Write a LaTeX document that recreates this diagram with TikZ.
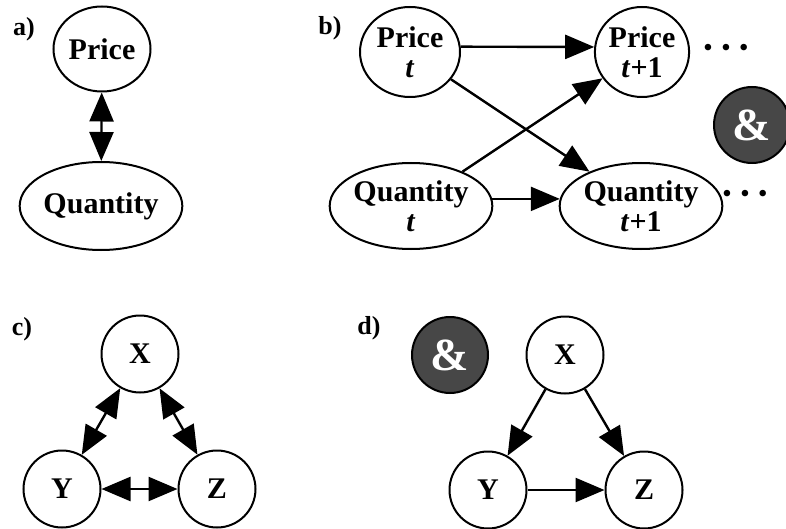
\documentclass[tikz,border=0pt]{standalone}
\usepackage{fontspec}
\setmainfont{Liberation Serif}
\usetikzlibrary{shapes.geometric,arrows.meta}
\tikzset{
  lbl/.style={font=\fontsize{30}{33}\selectfont\bfseries, text=black},
  ell/.style={ellipse, draw, line width=2pt, inner sep=0pt, lbl},
  circ/.style={circle, draw, line width=2pt, inner sep=0pt, minimum size=77pt, lbl},
  amp/.style={circle, draw, line width=2pt, fill=black!72, inner sep=0pt, minimum size=76pt,
     font=\fontsize{46}{46}\selectfont\bfseries, text=white},
  panel/.style={font=\fontsize{26}{26}\selectfont\bfseries},
  tip/.style={Triangle[length=29pt,width=24pt]},
  edge/.style={line width=2.4pt, -{Triangle[length=29pt,width=24pt]}},
  dbl/.style={line width=2.4pt, {Triangle[length=29pt,width=24pt]}-{Triangle[length=29pt,width=24pt]}},
  dots/.style={font=\fontsize{24}{24}\selectfont\bfseries, inner sep=0pt}
}
\begin{document}
\begin{tikzpicture}[x=1pt,y=-1pt]
\useasboundingbox (0,0) rectangle (786,529);
% panel a
\node[panel] (la) at (24,29) {a)};
\node[ell, minimum width=97pt, minimum height=85pt] (pa) at (102,49) {Price};
\node[ell, minimum width=135pt, minimum height=88pt] (qa) at (101,206) {Quantity};
\draw[dbl] (pa) -- (qa);
% panel b
\node[panel] (lb) at (330,28) {b)};
\node[ell, minimum width=100pt, minimum height=90pt, align=center] (pb) at (410,52) {Price\\[-3pt]\textit{t}};
\node[ell, minimum width=92pt, minimum height=90pt, align=center] (pb1) at (642,52) {Price\\[-3pt]\textit{t}+1};
\node[ell, minimum width=138pt, minimum height=86pt, align=center] (qb) at (411,206) {Quantity\\[-3pt]\textit{t}};
\node[ell, minimum width=136pt, minimum height=86pt, align=center] (qb1) at (641,206) {Quantity\\[-3pt]\textit{t}+1};
\node[dots] (d1) at (726,50) {•\hspace{9.5pt}•\hspace{9.5pt}•};
\node[dots] (d2) at (745,196) {•\hspace{9.5pt}•\hspace{9.5pt}•};
\node[amp] (ampb) at (752,125) {\&};
\draw[edge] (pb.6) -- (pb1.174);
\draw[edge] (pb) -- (qb1);
\draw[edge] (qb) -- (pb1);
\draw[edge] (qb.5) -- (qb1.175);
% panel c
\node[panel] (lc) at (22,329) {c)};
\node[circ] (xc) at (140,354) {X};
\node[circ] (yc) at (62,489) {Y};
\node[circ] (zc) at (217,489) {Z};
\draw[dbl] (xc) -- (yc);
\draw[dbl] (xc) -- (zc);
\draw[dbl] (yc) -- (zc);
% panel d
\node[panel] (ld) at (369,328) {d)};
\node[amp] (ampd) at (450,355) {\&};
\node[circ] (xd) at (565,355) {X};
\node[circ] (yd) at (488,490) {Y};
\node[circ] (zd) at (644,490) {Z};
\draw[edge] (xd) -- (yd);
\draw[edge] (xd) -- (zd);
\draw[edge] (yd) -- (zd);
\end{tikzpicture}
\end{document}
